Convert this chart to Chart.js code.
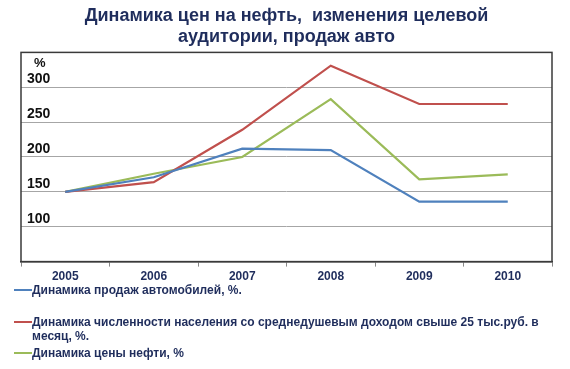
<!DOCTYPE html>
<html>
<head>
<meta charset="utf-8">
<script src="https://cdn.jsdelivr.net/npm/chart.js@4"></script>
<style>
  body { margin: 0; background: #fff; }
  #wrap { position: relative; width: 570px; height: 369px; }
  .legend-item {
    position: absolute; left: 14px;
    font: bold 12px Arial, "Liberation Sans", sans-serif; color: #1f2d5c;
    white-space: nowrap; line-height: 14px;
  }
  .legend-item .swatch {
    position: absolute; left: 0; top: 6px; width: 18px; height: 2px;
  }
  .legend-item .txt { margin-left: 18px; display: block; }
</style>
</head>
<body>
<div id="wrap">
  <canvas class="chart" width="570" height="369"></canvas>
  <div id="legend"></div>
</div>
<script>
const years = ["2005", "2006", "2007", "2008", "2009", "2010"];
const carSales = [150, 171, 212, 210, 136, 136];
const richPopulation = [150, 164, 239, 331, 276, 276];
const oilPrice = [150, 176, 200, 283, 168, 175];
const yTickLabels = [100, 150, 200, 250, 300];

const seriesNames = [
  "Динамика продаж автомобилей, %.",
  "Динамика численности населения со среднедушевым доходом свыше 25 тыс.руб. в\nмесяц, %.",
  "Динамика цены нефти, %"
];
const seriesColors = ["#4f81bd", "#c0504d", "#9bbb59"];

const navy = "#1f2d5c";

// box round the plot area and the "%" mark above the y labels
const frame = {
  id: "frame",
  afterDraw(chart) {
    const { ctx, chartArea: a, scales } = chart;
    ctx.save();
    ctx.strokeStyle = "#3a3a3a";
    ctx.lineWidth = 1.5;
    ctx.strokeRect(a.left, a.top, a.right - a.left, a.bottom - a.top);
    ctx.fillStyle = "#111";
    ctx.font = "bold 13px Arial, 'Liberation Sans', sans-serif";
    ctx.textBaseline = "middle";
    ctx.fillText("%", a.left + 13, scales.y.getPixelForValue(350) + 11);
    ctx.restore();
  }
};

const chart = document.querySelector(".chart");
const myChart = new Chart(chart, {
  type: "line",
  data: {
    labels: years,
    datasets: [carSales, richPopulation, oilPrice].map((d, i) => ({
      label: seriesNames[i],
      data: d,
      borderColor: seriesColors[i],
      backgroundColor: seriesColors[i],
      borderWidth: 2.2,
      pointRadius: 0,
      tension: 0
    }))
  },
  options: {
    responsive: false,
    animation: false,
    layout: { padding: { left: 9, right: 18, bottom: 82 } },
    plugins: {
      legend: { display: false },
      tooltip: { enabled: false },
      title: {
        display: true,
        fullSize: false,
        text: ["Динамика цен на нефть,  изменения целевой", "аудитории, продаж авто"],
        color: navy,
        font: { family: "Arial, 'Liberation Sans', sans-serif", size: 18, weight: "bold", lineHeight: 1.15 },
        padding: { top: 6, bottom: 5 }
      }
    },
    scales: {
      x: {
        offset: true,
        grid: { offset: true, drawOnChartArea: false, color: "#888", tickLength: 5 },
        border: { color: "#3a3a3a", width: 1.5 },
        ticks: {
          color: navy,
          padding: 3,
          font: { family: "Arial, 'Liberation Sans', sans-serif", size: 12, weight: "bold" }
        }
      },
      y: {
        min: 50,
        max: 350,
        grid: { color: "#a6a6a6", drawTicks: false },
        border: { display: false },
        ticks: {
          stepSize: 50,
          mirror: true,
          padding: 6,
          labelOffset: -8,
          color: "#111",
          font: { family: "Arial, 'Liberation Sans', sans-serif", size: 14, weight: "bold" },
          callback: (v) => yTickLabels.includes(v) ? String(v) : ""
        }
      }
    }
  },
  plugins: [frame]
});

// legend below the chart, the long entry wraps onto a second line
const legendTops = [283, 315, 346];
const legend = document.getElementById("legend");
seriesNames.forEach((name, i) => {
  const item = document.createElement("div");
  item.className = "legend-item";
  item.style.top = legendTops[i] + "px";
  const sw = document.createElement("span");
  sw.className = "swatch";
  sw.style.background = seriesColors[i];
  const txt = document.createElement("span");
  txt.className = "txt";
  name.split("\n").forEach((line, j) => {
    if (j) txt.appendChild(document.createElement("br"));
    txt.appendChild(document.createTextNode(line));
  });
  item.appendChild(sw);
  item.appendChild(txt);
  legend.appendChild(item);
});
</script>
</body>
</html>
